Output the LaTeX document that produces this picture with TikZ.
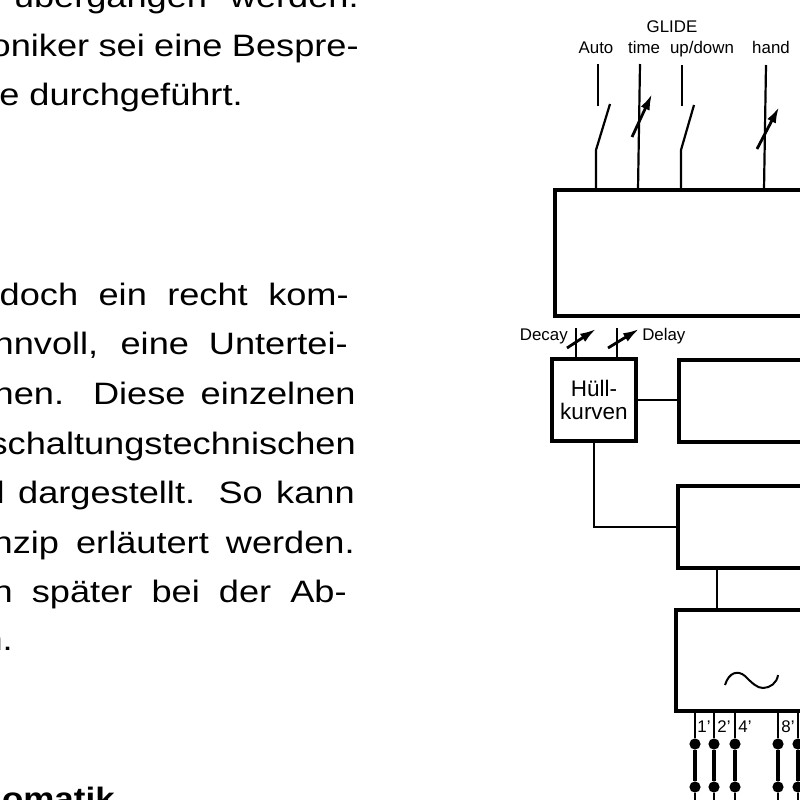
\documentclass[tikz,border=0pt]{standalone}
\usepackage{fontspec}
\setmainfont{Liberation Sans}
\newfontfamily\bodyfont[FakeStretch=1.17]{Liberation Sans}
\newfontfamily\headfont[FakeStretch=1.13]{Liberation Sans}
\usetikzlibrary{positioning,arrows.meta}
\newcommand{\fitline}[2]{\makebox[#1][s]{#2}}
\begin{document}
\begin{tikzpicture}[
  x=0.25mm,y=-0.25mm,
  font=\fontsize{12}{14}\selectfont,
  body/.style={font=\bodyfont\fontsize{22}{26}\selectfont,anchor=base east,inner sep=0pt},
  lbl/.style={inner sep=0pt,anchor=base},
  block/.style={draw,line width=1.15mm,outer sep=0pt,anchor=north west,inner sep=0pt},
  wire/.style={line width=0.55mm},
  knob/.style={-{Latex[length=4mm,width=2.4mm]},line width=0.7mm},
  bus/.style={line width=1.2mm},
  dot/.style={circle,fill,inner sep=0pt,minimum size=2.8mm},
]
\useasboundingbox (0,0) rectangle (800,800);
\clip (0,0) rectangle (800,800);

% ---- Running text (left column)
\node[body] (L0) at (359,  7) {übergangen" werden.};
\node[body] (L1) at (359, 56) {\fitline{92mm}{oniker sei eine Bespre-}};
\node[body] (L2) at (243,105) {e durchgeführt.};
\node[body] (L3) at (349,305) {\fitline{87.25mm}{doch ein recht kom-}};
\node[body] (L4) at (348,354) {\fitline{88.5mm}{nnvoll, eine Untertei-}};
\node[body] (L5) at (356,404) {\fitline{90.5mm}{nen. Diese einzelnen}};
\node[body] (L6) at (356,454) {schaltungstechnischen};
\node[body] (L7) at (355,503) {\fitline{89.5mm}{l dargestellt. So kann}};
\node[body] (L8) at (355,553) {\fitline{90.5mm}{nzip erläutert werden.}};
\node[body] (L9) at (347,602) {\fitline{88.5mm}{n später bei der Ab-}};
\node[body] (L10) at (13,650) {n.};
\node[body,font=\headfont\bfseries\fontsize{22}{26}\selectfont] (L11) at (115,809) {omatik};

% ---- Blocks
\node[block,minimum width=68.75mm,minimum height=31.5mm] (Ctrl) at (555,190) {};
\node[block,minimum width=21mm,minimum height=20.5mm,align=center,font=\fontsize{16}{17}\selectfont] (Env) at (552,359) {Hüll-\\kurven};
\node[block,minimum width=38mm,minimum height=20.5mm] (Filt) at (679,360) {};
\node[block,minimum width=38mm,minimum height=20.5mm] (Amp) at (678,486) {};
\node[block,minimum width=38mm,minimum height=25.25mm] (Osc) at (676,610) {};

% ---- Glide labels
\node[lbl] (Glide) at (672,32) {GLIDE};
\node[lbl] (Auto) at (596,53) {Auto};
\node[lbl] (Time) at (644,53) {time};
\node[lbl] (UpDown) at (702,53) {up/down};
\node[lbl] (Hand) at (771,53) {hand};

% ---- Glide switches and knobs
\coordinate (a1) at (598,64);  \coordinate (a2) at (598,106);
\coordinate (a3) at (610,104); \coordinate (a4) at (596,150);
\coordinate (u1) at (682,65);  \coordinate (u2) at (682,106);
\coordinate (u3) at (694,105); \coordinate (u4) at (681,150);
\coordinate (t1) at (640,64);  \coordinate (h1) at (766,65);
\draw[wire] (a1) -- (a2);
\draw[wire] (a3) -- (a4) -- (a4 |- Ctrl.north);
\draw[wire] (u1) -- (u2);
\draw[wire] (u3) -- (u4) -- (u4 |- Ctrl.north);
\draw[wire] (t1) -- (638,190);
\draw[wire] (h1) -- (764,190);
\draw[knob] (632,137) -- (652,94);
\draw[knob] (757,149) -- (779,107);

% ---- Envelope controls
\coordinate (k1) at (576,328);
\coordinate (k2) at (617,328);
\draw[wire] (k1) -- (k1 |- Env.north);
\draw[wire] (k2) -- (k2 |- Env.north);
\draw[knob] (567,348) -- (596,329);
\draw[knob] (608,348) -- (639,329);
\node[lbl,anchor=base east] (Decay) at (568,340) {Decay};
\node[lbl,anchor=base west] (Delay) at (642,340) {Delay};

% ---- Connections between blocks
\draw[wire] (Env.east) -- (Env.east -| Filt.west);
\draw[wire] (Env.south) -- (Env.south |- 0,527) -- (Amp.west |- 0,527);
\coordinate (o0) at (717,610);
\draw[wire] (Amp.south -| o0) -- (Osc.north -| o0);

% ---- Oscillator
\draw[line width=0.5mm] (725,685) .. controls (729,672) and (738,670) .. (745,676) .. controls (752,683) and (757,688) .. (763,688) .. controls (770,688) and (777,683) .. (778,675);
\node[lbl] (f1) at (704,732) {1'};
\node[lbl] (f2) at (724,732) {2'};
\node[lbl] (f3) at (745,732) {4'};
\node[lbl] (f4) at (788,732) {8'};

% ---- Footage outputs
\node[dot] (d1) at (695,744) {}; \node[dot] (e1) at (695,787) {};
\node[dot] (d2) at (714,744) {}; \node[dot] (e2) at (714,787) {};
\node[dot] (d3) at (735,744) {}; \node[dot] (e3) at (735,787) {};
\node[dot] (d4) at (778,744) {}; \node[dot] (e4) at (778,787) {};
\node[dot] (d5) at (798,744) {}; \node[dot] (e5) at (798,787) {};
\draw[wire] (d1 |- Osc.south) -- (d1); \draw[bus] (d1) -- (e1); \draw[wire] (e1) -- ++(0,15);
\draw[wire] (d2 |- Osc.south) -- (d2); \draw[bus] (d2) -- (e2); \draw[wire] (e2) -- ++(0,15);
\draw[wire] (d3 |- Osc.south) -- (d3); \draw[bus] (d3) -- (e3); \draw[wire] (e3) -- ++(0,15);
\draw[wire] (d4 |- Osc.south) -- (d4); \draw[bus] (d4) -- (e4); \draw[wire] (e4) -- ++(0,15);
\draw[wire] (d5 |- Osc.south) -- (d5); \draw[bus] (d5) -- (e5); \draw[wire] (e5) -- ++(0,15);

\end{tikzpicture}
\end{document}
